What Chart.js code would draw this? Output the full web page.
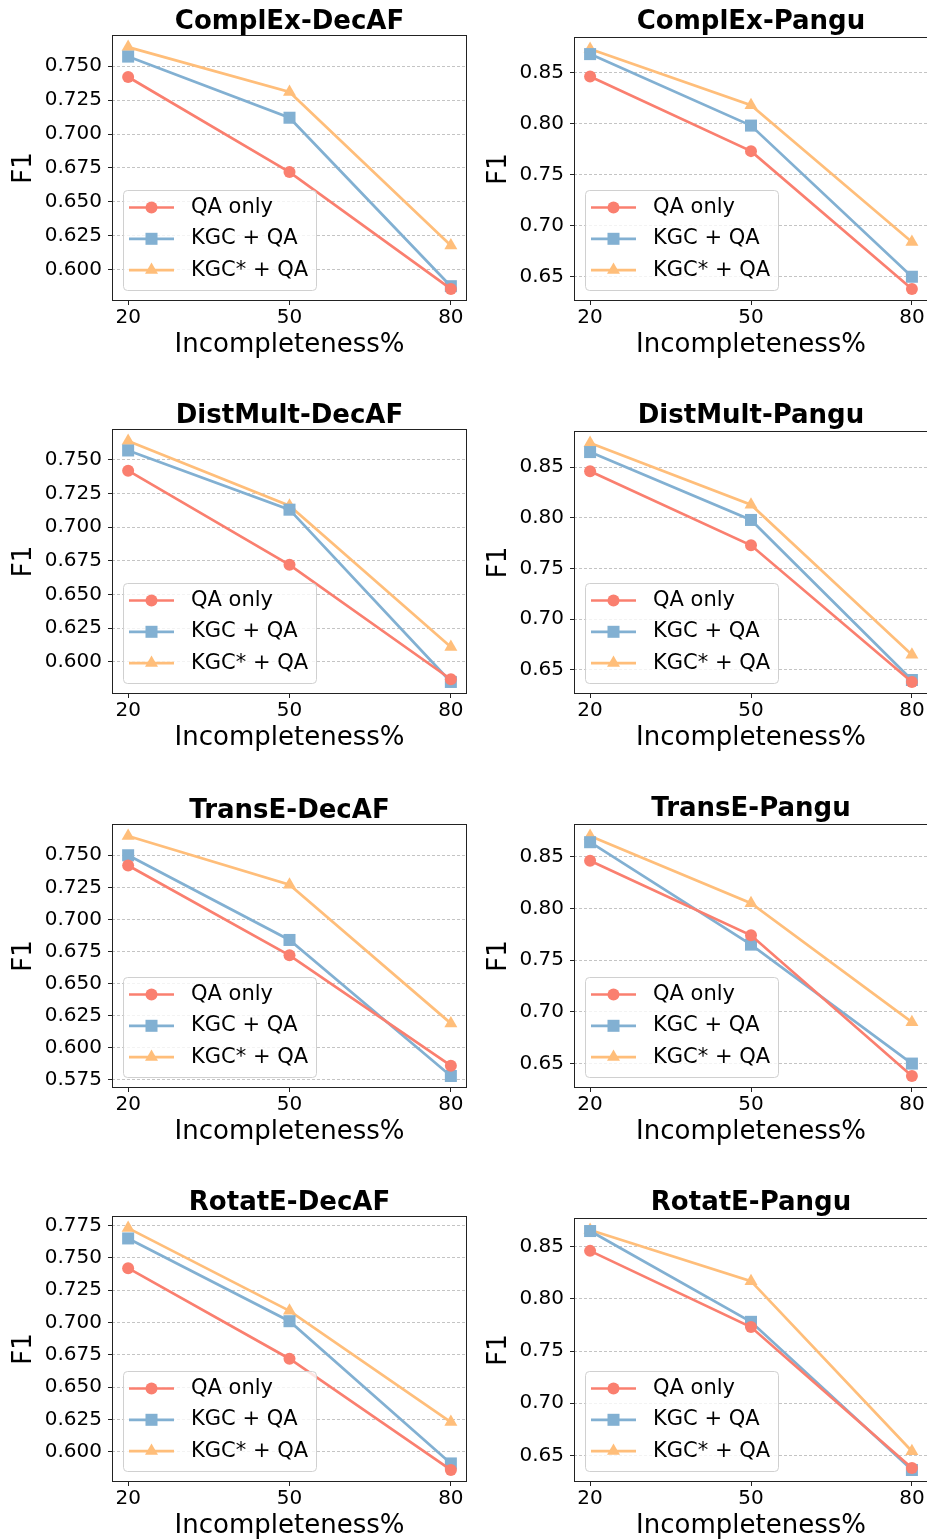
<!DOCTYPE html>
<html>
<head>
<meta charset="utf-8">
<script src="https://cdn.jsdelivr.net/npm/chart.js@4.4.1/dist/chart.umd.min.js"></script>
<style>
  html, body { margin: 0; padding: 0; background: #fff; }
  #page { position: relative; width: 927px; height: 1540px; overflow: hidden; background: #fff; }
  #page canvas { position: absolute; }
</style>
</head>
<body>
<div id="page"></div>
<script>
// x categories (incompleteness %)
const xValues = [20, 50, 80];
const seriesNames = ['QA only', 'KGC + QA', 'KGC* + QA'];

// F1 values
const complexDecafQa = [0.742, 0.672, 0.586];
const complexDecafKgc = [0.757, 0.712, 0.588];
const complexDecafKgcStar = [0.764, 0.731, 0.618];

const complexPanguQa = [0.846, 0.773, 0.638];
const complexPanguKgc = [0.868, 0.798, 0.650];
const complexPanguKgcStar = [0.873, 0.818, 0.684];

const distmultDecafQa = [0.742, 0.672, 0.587];
const distmultDecafKgc = [0.757, 0.713, 0.585];
const distmultDecafKgcStar = [0.764, 0.716, 0.611];

const distmultPanguQa = [0.846, 0.773, 0.638];
const distmultPanguKgc = [0.865, 0.798, 0.640];
const distmultPanguKgcStar = [0.874, 0.813, 0.665];

const transeDecafQa = [0.742, 0.672, 0.586];
const transeDecafKgc = [0.750, 0.684, 0.578];
const transeDecafKgcStar = [0.765, 0.727, 0.619];

const transePanguQa = [0.846, 0.774, 0.638];
const transePanguKgc = [0.864, 0.765, 0.650];
const transePanguKgcStar = [0.870, 0.805, 0.690];

const rotateDecafQa = [0.742, 0.672, 0.586];
const rotateDecafKgc = [0.765, 0.701, 0.591];
const rotateDecafKgcStar = [0.773, 0.709, 0.623];

const rotatePanguQa = [0.846, 0.773, 0.638];
const rotatePanguKgc = [0.865, 0.778, 0.636];
const rotatePanguKgcStar = [0.866, 0.817, 0.654];

// y tick spacing / label decimals
const decafTicks = { step: 0.025, digits: 3 };
const panguTicks = { step: 0.05, digits: 2 };

const panels = [
  { title: 'ComplEx-DecAF', series: [complexDecafQa, complexDecafKgc, complexDecafKgcStar], ticks: decafTicks },
  { title: 'ComplEx-Pangu', series: [complexPanguQa, complexPanguKgc, complexPanguKgcStar], ticks: panguTicks },
  { title: 'DistMult-DecAF', series: [distmultDecafQa, distmultDecafKgc, distmultDecafKgcStar], ticks: decafTicks },
  { title: 'DistMult-Pangu', series: [distmultPanguQa, distmultPanguKgc, distmultPanguKgcStar], ticks: panguTicks },
  { title: 'TransE-DecAF', series: [transeDecafQa, transeDecafKgc, transeDecafKgcStar], ticks: decafTicks },
  { title: 'TransE-Pangu', series: [transePanguQa, transePanguKgc, transePanguKgcStar], ticks: panguTicks },
  { title: 'RotatE-DecAF', series: [rotateDecafQa, rotateDecafKgc, rotateDecafKgcStar], ticks: decafTicks },
  { title: 'RotatE-Pangu', series: [rotatePanguQa, rotatePanguKgc, rotatePanguKgcStar], ticks: panguTicks }
];

// styling
const FONT = '"DejaVu Sans", "Liberation Sans", sans-serif';
const colors = ['#FA7F6F', '#82B0D2', '#FFBE7A'];
const markers = ['circle', 'rect', 'triangle'];
const markerRadius = [6, 8.5, 7.5];

// layout (plot area top/bottom in page pixels)
const leftTops = [35, 429, 824, 1216];
const rightTops = [37, 431, 824, 1218];
const plotBottoms = [301, 694, 1088, 1482];
const X_AXIS_H = 62;
const Y_AXIS_W = 112;

function drawMarker(ctx, style, x, y, r, color) {
  ctx.fillStyle = color;
  ctx.beginPath();
  if (style === 'circle') {
    ctx.arc(x, y, r, 0, Math.PI * 2);
  } else if (style === 'rect') {
    const s = r * Math.SQRT1_2;
    ctx.rect(x - s, y - s, 2 * s, 2 * s);
  } else {
    for (let k = 0; k < 3; k++) {
      const a = k * 2 * Math.PI / 3;
      const px = x + Math.sin(a) * r, py = y - Math.cos(a) * r;
      if (k === 0) ctx.moveTo(px, py); else ctx.lineTo(px, py);
    }
    ctx.closePath();
  }
  ctx.fill();
}

const frameLegend = {
  id: 'frameLegend',
  afterDatasetsDraw(chart) {
    const { ctx, chartArea: a } = chart;
    ctx.save();
    // axes frame
    ctx.strokeStyle = '#222';
    ctx.lineWidth = 1;
    ctx.strokeRect(Math.round(a.left) + 0.5, Math.round(a.top) + 0.5,
      Math.round(a.right - a.left) - 1, Math.round(a.bottom - a.top) - 1);

    // legend, lower left inside the axes
    const bw = 193, bh = 100;
    const bx = Math.round(a.left) + 11, by = Math.round(a.bottom) - 11 - bh;
    ctx.fillStyle = 'rgba(255,255,255,0.8)';
    ctx.strokeStyle = '#d0d0d0';
    ctx.lineWidth = 1;
    ctx.beginPath();
    ctx.roundRect(bx + 0.5, by + 0.5, bw, bh, 4);
    ctx.fill();
    ctx.stroke();

    chart.data.datasets.forEach((ds, k) => {
      const cy = by + 17.5 + k * 31.3;
      ctx.strokeStyle = ds.borderColor;
      ctx.lineWidth = 2.7;
      ctx.beginPath();
      ctx.moveTo(bx + 6, cy);
      ctx.lineTo(bx + 51, cy);
      ctx.stroke();
      drawMarker(ctx, ds.pointStyle, bx + 28.5, cy, ds.pointRadius, ds.borderColor);
      ctx.fillStyle = '#000';
      ctx.font = '21px ' + FONT;
      ctx.textBaseline = 'middle';
      ctx.textAlign = 'left';
      ctx.fillText(ds.label, bx + 68, cy);
    });
    ctx.restore();
  }
};

const page = document.getElementById('page');

panels.forEach((panel, idx) => {
  const row = Math.floor(idx / 2);
  const col = idx % 2;
  const titleBox = col === 0 ? 35 : 37;
  const plotTop = col === 0 ? leftTops[row] : rightTops[row];
  const plotH = plotBottoms[row] - plotTop;

  const w = 470;
  const h = titleBox + plotH + X_AXIS_H;
  const canvas = document.createElement('canvas');
  canvas.width = w;
  canvas.height = h;
  canvas.style.width = w + 'px';
  canvas.style.height = h + 'px';
  canvas.style.left = (col === 0 ? 0 : 462) + 'px';
  canvas.style.top = (plotTop - titleBox) + 'px';
  page.appendChild(canvas);

  const all = panel.series.flat();
  const lo = Math.min(...all);
  const hi = Math.max(...all);
  const margin = (hi - lo) * 0.05;

  new Chart(canvas, {
    type: 'line',
    data: {
      datasets: panel.series.map((vals, k) => ({
        label: seriesNames[k],
        data: xValues.map((x, j) => ({ x: x, y: vals[j] })),
        borderColor: colors[k],
        backgroundColor: colors[k],
        pointBackgroundColor: colors[k],
        pointBorderColor: colors[k],
        pointBorderWidth: 0,
        pointStyle: markers[k],
        pointRadius: markerRadius[k],
        borderWidth: 2.7,
        tension: 0,
        fill: false
      }))
    },
    options: {
      responsive: false,
      animation: false,
      devicePixelRatio: 1,
      layout: {
        autoPadding: false,
        padding: { left: 0, right: col === 0 ? 3 : 4, top: 0, bottom: 0 }
      },
      scales: {
        x: {
          type: 'linear',
          min: xValues[0] - 3,
          max: xValues[xValues.length - 1] + 3,
          afterBuildTicks: (s) => { s.ticks = xValues.map(v => ({ value: v })); },
          afterFit: (s) => {
            s.height = X_AXIS_H;
            s.paddingLeft = 0;
            s.paddingRight = 0;
          },
          grid: {
            drawOnChartArea: false,
            drawTicks: true,
            tickLength: 4,
            tickColor: '#222',
            tickWidth: 1
          },
          border: { display: false },
          ticks: {
            font: { family: FONT, size: 20 },
            color: '#000',
            padding: 1,
            maxRotation: 0,
            autoSkip: false,
            callback: (v) => String(v)
          },
          title: {
            display: true,
            text: 'Incompleteness%',
            color: '#000',
            font: { family: FONT, size: 26 },
            padding: { top: 0, bottom: 2 }
          }
        },
        y: {
          min: lo - margin,
          max: hi + margin,
          afterFit: (s) => { s.width = Y_AXIS_W; },
          grid: {
            color: '#c4c4c4',
            lineWidth: 1,
            drawTicks: true,
            tickLength: 4,
            tickColor: '#222',
            tickWidth: 1,
            tickBorderDash: []
          },
          border: { display: false, dash: [3, 2] },
          ticks: {
            stepSize: panel.ticks.step,
            includeBounds: false,
            font: { family: FONT, size: 20 },
            color: '#000',
            padding: 6,
            callback: (v) => Number(v).toFixed(panel.ticks.digits)
          },
          title: {
            display: true,
            text: 'F1',
            color: '#000',
            font: { family: FONT, size: 26 },
            padding: { top: col === 0 ? 9 : 22, bottom: 0 }
          }
        }
      },
      plugins: {
        legend: { display: false },
        tooltip: { enabled: false },
        title: {
          display: true,
          text: panel.title,
          fullSize: false,
          color: '#000',
          font: { family: FONT, size: 26, weight: 'bold', lineHeight: 1 },
          padding: { top: 9, bottom: titleBox - 35 }
        }
      }
    },
    plugins: [frameLegend]
  });
});
</script>
</body>
</html>
